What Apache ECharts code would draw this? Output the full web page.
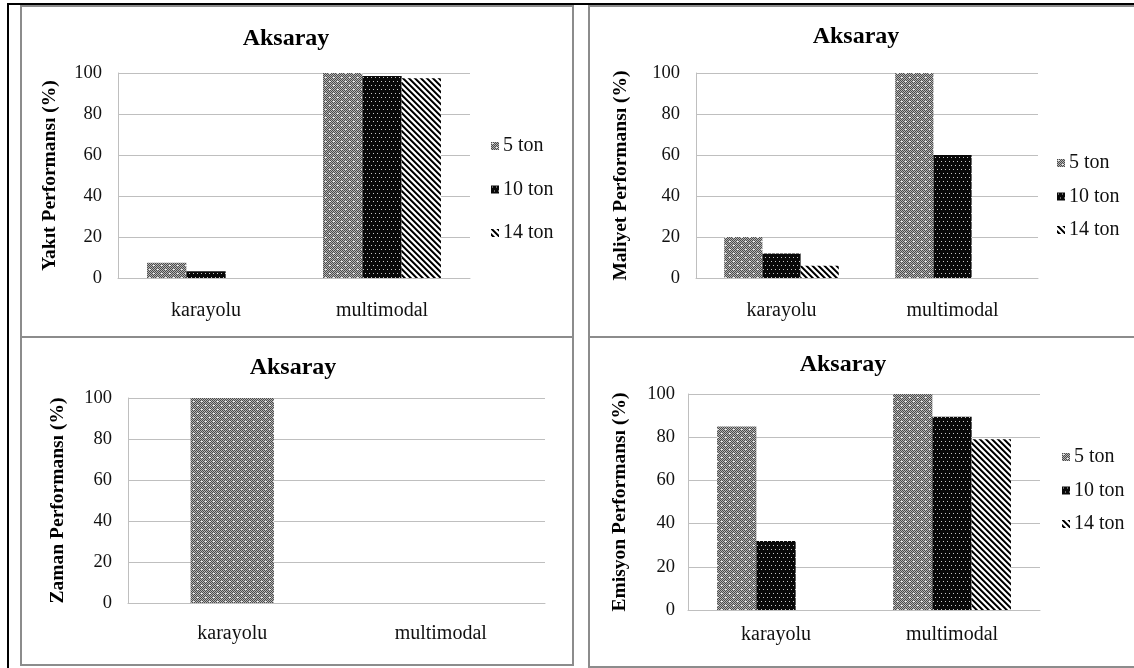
<!DOCTYPE html>
<html>
<head>
<meta charset="utf-8">
<title>Aksaray</title>
<script src="https://cdn.jsdelivr.net/npm/echarts@6/dist/echarts.min.js"></script>
<style>
  html, body { margin: 0; padding: 0; background: #fff; }
  #chart { width: 1134px; height: 668px; }
</style>
</head>
<body>
<div id="chart"></div>
<script>
// Shared categories and legend entries
const categories = ['karayolu', 'multimodal'];
const loadNames = ['5 ton', '10 ton', '14 ton'];
const yTicks = [0, 20, 40, 60, 80, 100];

// Yakıt performansı (%)
const yakit5 = [7.5, 100];
const yakit10 = [3.3, 98.5];
const yakit14 = [0, 97.5];

// Maliyet performansı (%)
const maliyet5 = [20, 100];
const maliyet10 = [12, 60];
const maliyet14 = [6, 0];

// Zaman performansı (%)
const zaman5 = [100, 0];

// Emisyon performansı (%)
const emisyon5 = [85, 100];
const emisyon10 = [32, 89.5];
const emisyon14 = [0, 79];

const FONT = 'Liberation Serif';

// Pixel tiles used as repeating fill patterns
function makeTile(n, shade) {
  const c = document.createElement('canvas');
  c.width = n; c.height = n;
  const ctx = c.getContext('2d');
  const img = ctx.createImageData(n, n);
  for (let y = 0; y < n; y++) {
    for (let x = 0; x < n; x++) {
      const v = shade(x, y);
      const i = (y * n + x) * 4;
      img.data[i] = v; img.data[i + 1] = v; img.data[i + 2] = v; img.data[i + 3] = 255;
    }
  }
  ctx.putImageData(img, 0, 0);
  return { image: c, repeat: 'repeat' };
}

// 5 ton: grey dither with light dots
const pat5 = makeTile(8, (x, y) => {
  if ((x === 1 && y === 1) || (x === 5 && y === 5) || (x === 2 && y === 1) || (x === 6 && y === 5)) return 235;
  return (x + y) % 2 === 0 ? 75 : 180;
});
// 10 ton: black with small white dots
const pat10 = makeTile(8, (x, y) => {
  if ((y === 1 && (x === 1 || x === 5)) || (y === 5 && (x === 3 || x === 7))) return 200;
  return 8;
});
// 14 ton: diagonal stripes
const pat14 = makeTile(6, (x, y) => {
  const d = ((x - y) % 6 + 6) % 6;
  if (d < 2) return 0;
  if (d === 2) return 90;
  if (d === 5) return 200;
  return 255;
});
const patterns = [pat5, pat10, pat14];

// Panel layout: plot areas in pixels
const panels = [
  { title: 'Aksaray', name: 'Yakıt Performansı (%)', grid: { left: 118, top: 73, width: 352, height: 205 }, titleX: 281, titleY: 22, nameGap: 58, labelMargin: 16, catMargin: 23, values: [yakit5, yakit10, yakit14], gap: '33%',
    legend: { left: 486, top: 131, itemGap: 23.5 } },
  { title: 'Aksaray', name: 'Maliyet Performansı (%)', grid: { left: 696, top: 73, width: 342, height: 205 }, titleX: 851, titleY: 20, nameGap: 65, labelMargin: 16, catMargin: 23, values: [maliyet5, maliyet10, maliyet14], gap: '33%',
    legend: { left: 1052, top: 148, itemGap: 13.5 } },
  { title: 'Aksaray', name: 'Zaman Performansı (%)', grid: { left: 128, top: 398, width: 417, height: 205 }, titleX: 288, titleY: 351, nameGap: 60, labelMargin: 16, catMargin: 21, values: [zaman5], gap: '60%',
    legend: null },
  { title: 'Aksaray', name: 'Emisyon Performansı (%)', grid: { left: 688, top: 394, width: 352, height: 216 }, titleX: 838, titleY: 348, nameGap: 58, labelMargin: 13, catMargin: 15, values: [emisyon5, emisyon10, emisyon14], gap: '33%',
    legend: { left: 1057, top: 442, itemGap: 13.5 } }
];

const option = {
  animation: false,
  backgroundColor: '#fff',
  title: [], grid: [], xAxis: [], yAxis: [], series: [], legend: [],
  graphic: [
    // outer black frame (top and left)
    { type: 'rect', shape: { x: 7, y: 3, width: 1127, height: 2 }, style: { fill: '#000' }, z: 10 },
    { type: 'rect', shape: { x: 7, y: 3, width: 2, height: 665 }, style: { fill: '#000' }, z: 10 },
    // grey panel frames
    { type: 'rect', shape: { x: 21, y: 6, width: 552, height: 331 }, style: { fill: null, stroke: '#8c8c8c', lineWidth: 2 }, z: 9 },
    { type: 'rect', shape: { x: 589, y: 6, width: 560, height: 331 }, style: { fill: null, stroke: '#8c8c8c', lineWidth: 2 }, z: 9 },
    { type: 'rect', shape: { x: 21, y: 337, width: 552, height: 328 }, style: { fill: null, stroke: '#8c8c8c', lineWidth: 2 }, z: 9 },
    { type: 'rect', shape: { x: 589, y: 337, width: 560, height: 330 }, style: { fill: null, stroke: '#8c8c8c', lineWidth: 2 }, z: 9 }
  ]
};

panels.forEach((p, i) => {
  option.title.push({
    text: p.title, left: p.titleX, top: p.titleY, textAlign: 'center',
    textStyle: { fontFamily: FONT, fontSize: 24, fontWeight: 'bold', color: '#000' }
  });
  option.grid.push(Object.assign({ containLabel: false }, p.grid));
  option.xAxis.push({
    type: 'category', gridIndex: i, data: categories,
    axisLine: { show: true, lineStyle: { color: '#bfbfbf', width: 1 } },
    axisTick: { show: false },
    axisLabel: { fontFamily: FONT, fontSize: 20, color: '#111', margin: p.catMargin }
  });
  option.yAxis.push({
    type: 'value', gridIndex: i, min: 0, max: 100, interval: 20,
    name: p.name, nameLocation: 'middle', nameRotate: 90, nameGap: p.nameGap,
    nameTextStyle: { fontFamily: FONT, fontSize: 19.5, fontWeight: 'bold', color: '#000' },
    axisLine: { show: true, lineStyle: { color: '#bfbfbf', width: 1 } },
    axisTick: { show: false },
    splitLine: { show: true, lineStyle: { color: '#bfbfbf', width: 1 } },
    axisLabel: { fontFamily: FONT, fontSize: 18.5, color: '#111', margin: p.labelMargin }
  });
  p.values.forEach((vals, k) => {
    option.series.push({
      type: 'bar', name: loadNames[k], xAxisIndex: i, yAxisIndex: i, data: vals,
      barGap: '0%', barCategoryGap: p.gap,
      itemStyle: { color: patterns[k] },
      emphasis: { disabled: true }
    });
  });
  if (p.legend) {
    option.legend.push({
      data: loadNames, orient: 'vertical', left: p.legend.left, top: p.legend.top,
      itemGap: p.legend.itemGap, itemWidth: 8, itemHeight: 8, icon: 'rect',
      selectedMode: false,
      textStyle: { fontFamily: FONT, fontSize: 20, color: '#111', padding: [0, 0, 0, -1] }
    });
  }
});

const chart = echarts.init(document.getElementById('chart'), null, { renderer: 'canvas' });
chart.setOption(option);
</script>
</body>
</html>
